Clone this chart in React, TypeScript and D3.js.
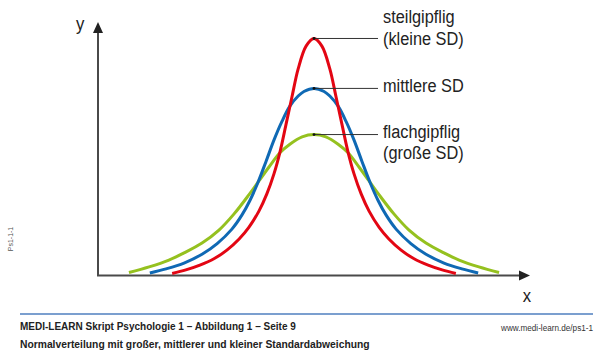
import React from 'react';
import * as d3 from 'd3';

// values (x in arbitrary units, centre 0; y relative height)
const steilX = [-3.94, -3.56, -3.17, -2.78, -2.42, -2.08, -1.81, -1.53, -1.31, -1.11, -0.94, -0.78, -0.61, -0.44, -0.22, 0,
    0.22, 0.44, 0.61, 0.78, 0.94, 1.11, 1.31, 1.53, 1.81, 2.08, 2.42, 2.78, 3.17, 3.56, 3.94];
const steilY = [0.008, 0.022, 0.041, 0.066, 0.100, 0.144, 0.190, 0.254, 0.322, 0.402, 0.490, 0.594, 0.706, 0.815, 0.905, 0.935,
    0.905, 0.815, 0.706, 0.594, 0.490, 0.402, 0.322, 0.254, 0.190, 0.144, 0.100, 0.066, 0.041, 0.022, 0.008];

const mittelX = [-4.56, -4.11, -3.61, -3.11, -2.69, -2.28, -2.0, -1.78, -1.56, -1.33, -1.11, -0.89, -0.67, -0.44, -0.28, 0,
    0.28, 0.44, 0.67, 0.89, 1.11, 1.33, 1.56, 1.78, 2.0, 2.28, 2.69, 3.11, 3.61, 4.11, 4.56];
const mittelY = [0.010, 0.026, 0.049, 0.084, 0.126, 0.183, 0.239, 0.296, 0.366, 0.451, 0.535, 0.608, 0.668, 0.708, 0.726, 0.738,
    0.726, 0.708, 0.668, 0.608, 0.535, 0.451, 0.366, 0.296, 0.239, 0.183, 0.126, 0.084, 0.049, 0.026, 0.010];

const flachX = [-5.14, -4.58, -4.03, -3.61, -3.11, -2.64, -2.22, -1.81, -1.53, -1.25, -0.94, -0.67, -0.33, 0,
    0.33, 0.67, 0.94, 1.25, 1.53, 1.81, 2.22, 2.64, 3.11, 3.61, 4.03, 4.58, 5.14];
const flachY = [0.012, 0.034, 0.061, 0.089, 0.128, 0.179, 0.243, 0.318, 0.373, 0.428, 0.485, 0.518, 0.547, 0.556,
    0.547, 0.518, 0.485, 0.428, 0.373, 0.318, 0.243, 0.179, 0.128, 0.089, 0.061, 0.034, 0.012];

const steilLabel = ['steilgipflig', '(kleine SD)'];
const mittelLabel = ['mittlere SD'];
const flachLabel = ['flachgipflig', '(große SD)'];

const footerTitle = 'MEDI-LEARN Skript Psychologie 1 – Abbildung 1 – Seite 9';
const footerCaption = 'Normalverteilung mit großer, mittlerer und kleiner Standardabweichung';
const footerUrl = 'www.medi-learn.de/ps1-1';
const sideCode = 'Ps1-1-1';

const labelFont = '"Liberation Sans Narrow", "Liberation Sans", Arial, sans-serif';
const footFont = '"Liberation Sans", Arial, sans-serif';

const App: React.FC = () => {
    const x = d3.scaleLinear().domain([-6, 6]).range([98, 530]);
    const y = d3.scaleLinear().domain([0, 1]).range([275.5, 22]);

    const line = d3.line<[number, number]>()
        .x(d => x(d[0]))
        .y(d => y(d[1]))
        .curve(d3.curveCatmullRom.alpha(0.5));

    const series = [
        { xs: flachX, ys: flachY, color: '#95c11f', label: flachLabel, dy: 3 },
        { xs: mittelX, ys: mittelY, color: '#0f69b4', label: mittelLabel, dy: 3.5 },
        { xs: steilX, ys: steilY, color: '#e30613', label: steilLabel, dy: -15 },
    ];

    const x0 = x(-6), x1 = x(6);
    const y0 = y(0), y1 = y(1);
    const labelX = 383;

    return (
        <svg width={600} height={353} style={{ position: 'absolute', left: 0, top: 0, background: '#fff' }}>
            {/* axes */}
            <g stroke="#4a4a4a" fill="#4a4a4a">
                <line x1={x0} y1={y0} x2={x0} y2={y1 + 10} strokeWidth={2} />
                <path d={`M${x0},${y1} L${x0 - 5},${y1 + 11} L${x0 + 5},${y1 + 11} Z`} stroke="none" fill="#222" />
                <line x1={x0 - 1} y1={y0} x2={x1 - 10} y2={y0} strokeWidth={2} />
                <path d={`M${x1},${y0} L${x1 - 11},${y0 - 5} L${x1 - 11},${y0 + 5} Z`} stroke="none" fill="#222" />
            </g>
            <g transform={`translate(${x0 - 22},${y1 + 8}) scale(0.88,1)`}>
                <text fontFamily={labelFont} fontSize={19} fill="#222">y</text>
            </g>
            <g transform={`translate(${x1 - 3},${y0 + 26}) scale(0.88,1)`}>
                <text fontFamily={labelFont} fontSize={19} fill="#222" textAnchor="middle">x</text>
            </g>

            {/* curves */}
            {series.map((s, i) => (
                <path key={i}
                    d={line(s.xs.map((v, j) => [v, s.ys[j]] as [number, number])) || ''}
                    fill="none" stroke={s.color} strokeWidth={3} strokeLinecap="butt" />
            ))}

            {/* leaders and labels */}
            {series.map((s, i) => {
                const peak = d3.max(s.ys) as number;
                const px = x(s.xs[s.ys.indexOf(peak)]);
                const py = y(peak);
                return (
                    <g key={'l' + i}>
                        <line x1={px} y1={py} x2={labelX - 5} y2={py} stroke="#333" strokeWidth={1} />
                        <circle cx={px} cy={py} r={1.4} fill="#111" />
                        <g transform={`translate(${labelX},${py + s.dy}) scale(0.86,1)`}>
                            {s.label.map((t, k) => (
                                <text key={k} x={0} y={k * 21.5}
                                    fontFamily={labelFont} fontSize={19} fill="#222">{t}</text>
                            ))}
                        </g>
                    </g>
                );
            })}

            {/* footer */}
            <line x1={20} y1={314} x2={593} y2={314} stroke="#4f7fbf" strokeWidth={1.5} />
            <text x={20} y={330} fontFamily={footFont} fontWeight="bold" fontSize={10} fill="#222">{footerTitle}</text>
            <text x={20} y={347.5} fontFamily={footFont} fontWeight="bold" fontSize={10.3} fill="#222">{footerCaption}</text>
            <g transform="translate(593,330.5) scale(0.86,1)">
                <text fontFamily={footFont} fontSize={9.5} fill="#333" textAnchor="end">{footerUrl}</text>
            </g>
            <text transform="translate(13,239) rotate(-90)" fontFamily={footFont} fontSize={7}
                fill="#555" textAnchor="middle">{sideCode}</text>
        </svg>
    );
};

export default App;
